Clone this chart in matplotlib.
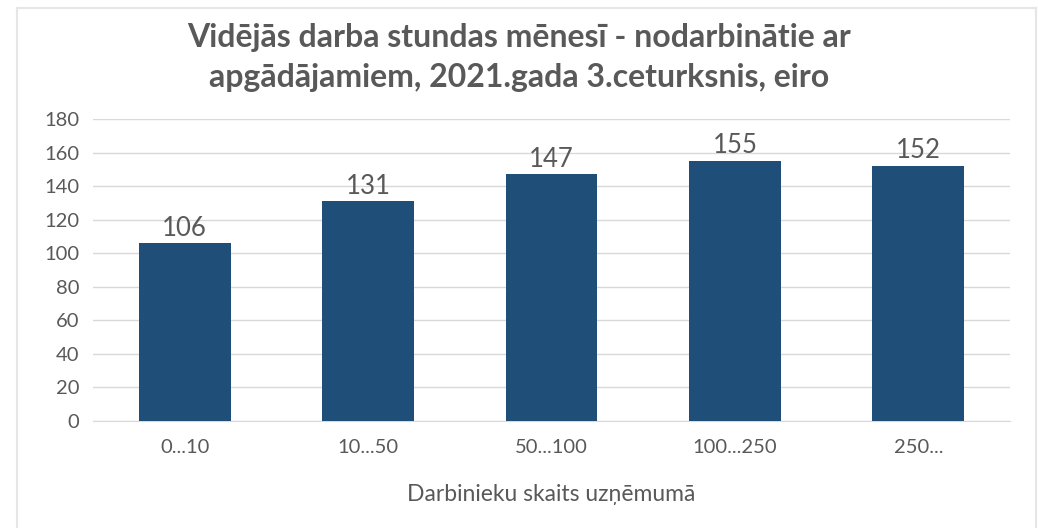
import matplotlib.pyplot as plt
from matplotlib.lines import Line2D

# Vidējās darba stundas mēnesī pēc uzņēmuma lieluma
categories = ['0...10', '10...50', '50...100', '100...250', '250...']
hours = [106, 131, 147, 155, 152]
yticks = [0, 20, 40, 60, 80, 100, 120, 140, 160, 180]

plt.rcParams['font.family'] = ['Lato', 'DejaVu Sans']
grey = '#595959'

fig = plt.figure(figsize=(10.38, 5.28), dpi=100)
ax = fig.add_axes([93 / 1038, 1 - 421 / 528, 917 / 1038, 302 / 528])

x = range(len(categories))
bars = ax.bar(x, hours, width=0.5, color='#1f4e79', zorder=3)
for b, v in zip(bars, hours):
    ax.text(b.get_x() + b.get_width() / 2, v + 1.5, str(v), ha='center', va='bottom',
            fontsize=18.5, color=grey)

ax.set_xlim(-0.5, len(categories) - 0.5)
ax.set_ylim(0, 180)
ax.set_yticks(yticks)
ax.set_xticks(list(x))
ax.set_xticklabels(categories)
ax.tick_params(axis='both', length=0, labelsize=14.5, labelcolor=grey)
ax.tick_params(axis='x', pad=13)
ax.tick_params(axis='y', pad=10)
ax.grid(axis='y', color='#d9d9d9', linewidth=1, zorder=0)
for s in ['top', 'right', 'left']:
    ax.spines[s].set_visible(False)
ax.spines['bottom'].set_color('#d9d9d9')

ax.set_xlabel('Darbinieku skaits uzņēmumā', fontsize=16.5, color=grey, labelpad=20)

fig.text(0.5, 1 - 37 / 528, 'Vidējās darba stundas mēnesī - nodarbinātie ar', ha='center',
         va='center', fontsize=23, fontweight='bold', color=grey)
fig.text(0.5, 1 - 78 / 528, 'apgādājamiem, 2021.gada 3.ceturksnis, eiro', ha='center',
         va='center', fontsize=23, fontweight='bold', color=grey)

# ramītis apkārt diagrammai
bc = '#e6e6e6'
fig.add_artist(Line2D([17 / 1038, 17 / 1038], [0, 1 - 8 / 528], color=bc, lw=1.5))
fig.add_artist(Line2D([17 / 1038, 1036 / 1038], [1 - 8 / 528, 1 - 8 / 528], color=bc, lw=1.5))
fig.add_artist(Line2D([1036 / 1038, 1036 / 1038], [0, 1 - 8 / 528], color=bc, lw=1.5))

plt.savefig('out.png', dpi=100)
